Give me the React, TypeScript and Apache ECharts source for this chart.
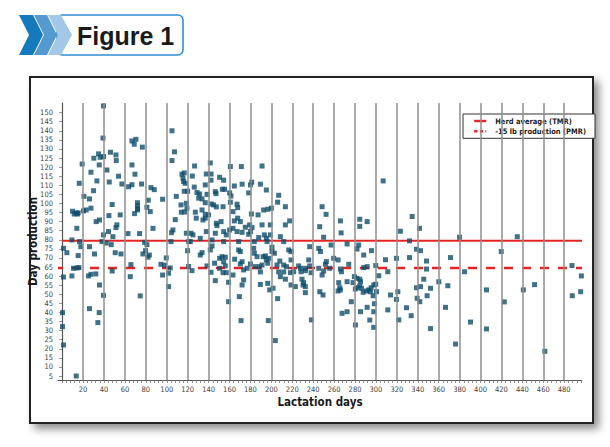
import React, { useEffect, useRef } from 'react';
import * as echarts from 'echarts';

// [lactation day, day production (lb)]
const cowsDays0to60: number[][] = [
  [39.5,153.7],[39,136],[46.2,128.2],[51.4,126.7],[51.7,123.6],[34.8,127.3],[36.4,125.4],[39.5,125.8],[30.3,124.9],
  [35.4,121.2],[19.1,121.7],[42.8,118.4],[27.5,117.2],[53.9,115],[33.2,112.4],[45,111.8],[16.3,111.1],[57.1,110.7],
  [30,107],[20.8,103.9],[26.1,102.5],[47.8,99.4],[27.5,97.4],[9.9,95.7],[11.5,94.2],[13.4,94.8],[14.6,94.2],[15.3,94.8],
  [20.4,95.9],[23,96.4],[32.5,90],[35.7,90.9],[44.7,93.3],[55.5,93.7],[14,86.3],[52.3,88.2],[51.4,86.7],[39.5,82.7],
  [44.3,84.5],[48.5,81.7],[9.3,79.9],[16.6,79],[38,79],[42.1,78.2],[1.3,75.3],[4.5,72.9],[17.9,76.2],[15.3,71.3],
  [10.8,64.3],[14.1,64.5],[16,64.7],[1.2,59.5],[9.3,60.1],[26.1,76.2],[30.9,72.2],[25.2,60.1],[27.5,61],[32.2,61.2],
  [35.7,55.1],[39.5,49.4],[26.1,42.1],[35.4,39.9],[34.1,34.4],[0.3,39.9],[0.3,32.2],[1.3,22.1],[13.4,5],[46.9,77.3],
  [50.7,72.9],[56.2,72.2],[47.8,62.8]
];
const cowsDays60to122: number[][] = [
  [105,140],[66.7,134.4],[70.5,135.3],[68.9,132.6],[76.6,131],[107.4,128.4],[105,123.6],[66.7,121.2],[69.6,116.1],
  [63.5,109.2],[66.7,110.3],[75.9,110.7],[84.9,108.7],[88,107.6],[114.5,116.1],[116.7,116.8],[115.5,113.9],[116.1,112],
  [117.7,111.1],[109.1,103.9],[116.7,106.7],[119.9,106.7],[82.3,101.8],[96,102.3],[72,100.4],[72,98.8],[72,97.1],
  [72,96.4],[118.7,100.1],[113.6,99.2],[119.3,97.4],[113.9,95.2],[117,95.3],[69.2,94.4],[81,97.9],[84.2,95.5],
  [108.1,91.1],[86.8,86.3],[104.6,83.9],[105.9,85.4],[62.9,83.4],[74,83.4],[118.7,83.6],[78.8,78.6],[104,79],
  [120.9,79],[65.7,66.3],[65.1,59.7],[74.6,49.1],[81,77.3],[77.2,72.2],[79.7,74],[82,70.4],[83.3,71.6],[94.4,66.5],
  [97.9,66],[99.5,70],[96,60.6],[101.7,61.6],[101.7,54.2],[103.3,64.5],[119.9,74],[120.9,65.3]
];
const cowsDays122to200: number[][] = [
  [126.6,120.6],[141.6,122.3],[160.8,120.3],[171.3,120.3],[191.1,120.6],[124.4,115.1],[137.8,116.2],[142.3,116.2],
  [150.5,114.4],[154.4,112.8],[142.3,112.8],[164.6,109.6],[172,110.6],[180,110.2],[181.2,111.7],[189.5,110.6],
  [195.2,107.4],[126.3,109],[136.8,110.2],[128.9,106],[131.4,105.2],[138.5,105],[146.4,106.5],[147.1,105.4],
  [153.1,107.8],[155.3,107.8],[160.1,105.8],[161.4,104.1],[178.3,105.8],[130.5,102.9],[133.7,102.5],[136.8,100.4],
  [142.6,99.7],[144.8,99.2],[147.4,98.1],[153.8,98.2],[160.8,100.7],[167.2,99.6],[167.8,97.7],[163.3,95.5],
  [180.9,94.2],[187.3,93.7],[192.6,96.4],[196.5,96.8],[127.3,95.2],[128.2,91.9],[133.7,96.4],[136.8,94],[140,93.7],
  [134.6,90.9],[136.8,91.9],[147.4,89.1],[151.9,90],[148,87.8],[164.6,90.4],[167.8,91.9],[170.3,90],[175.1,86.9],
  [179.2,88.2],[181.5,86.7],[191.1,88.2],[199,88.2],[123.2,83.6],[125,82.7],[132,80.8],[137.8,84.5],[143.3,79.9],
  [146.4,83.6],[154.4,84.5],[156.9,82.7],[160.1,85.4],[163.3,86.3],[167.2,84.5],[172,84.1],[178.3,83],[180,84.5],
  [183.7,79],[187.9,81.2],[193.3,82.7],[195.2,80.8],[195.9,79],[199,82.7],[122.5,79],[154.4,79],[168.7,79]
];
const cowsDays122to200Low: number[][] = [
  [132,71.6],[133.7,72.9],[143.3,76.6],[141.6,74.4],[150.5,69.8],[152.8,70.7],[156,70.4],[154.4,67.9],[156,65.6],
  [124.1,63],[138.5,65.6],[142.3,62.1],[145.7,67.1],[146.4,57.5],[150.5,64.3],[153.8,61.9],[156.9,61.9],[159.1,56.6],
  [159.1,45.9],[163.3,60.6],[164.9,69.3],[168.7,74.4],[170.3,73.5],[172,67.9],[170.3,66.7],[172,55.1],[173.5,57.9],
  [169.4,48.7],[171,35.5],[173.5,63.4],[176.8,64.3],[180,66.7],[183.1,75.3],[183.7,72.6],[186.3,70.7],[184.7,65.2],
  [188.8,65.2],[191.1,66.1],[189.5,62.3],[192.1,70.7],[194.3,71.1],[195.2,68.9],[196.5,67.1],[197.4,69.8],
  [189.5,55.4],[196.5,56],[198.4,52.4],[197.1,35.5]
];
const cowsDays200to250: number[][] = [
  [207,104.5],[200,97.4],[206,100.7],[213.4,98.2],[213.4,88.2],[217.5,90.4],[208.6,81.7],[211.8,79],[246.2,87.2],
  [201.6,53.3],[206,47.6],[203.8,24.5],[200.6,75.9],[200.6,73.5],[202.9,72.6],[205.4,66.1],[207,62.3],[208.6,59.7],
  [211.8,62.3],[211.8,66.1],[214.4,65.2],[208.1,68.3],[216.6,74.4],[218.8,73.5],[218.8,68.9],[213.4,58.3],
  [218.2,61.9],[218.8,55.1],[221.3,62.4],[222.9,54.2],[226.1,65.6],[227.8,64.3],[228.4,62.4],[232.5,64.3],
  [232.5,63],[229.3,58.3],[230.9,56.4],[232.5,54.2],[232.5,50.9],[230.3,55.1],[235.7,68.9],[236.6,65.6],[238,61.9],
  [238.3,35.9],[245.3,75.3],[246.9,73.5],[245.3,64.3],[246.3,51.4],[236.6,76.2],[248.5,98.2],[248.5,60.6],[249.4,49.6]
];
const cowsDays250to320: number[][] = [
  [306.9,112.4],[252.3,94],[250,81.4],[266,90.4],[266.7,83.8],[284.5,91.3],[284.5,87.4],[291.6,90],[272.4,77.7],
  [283.5,77.1],[281.9,74.9],[295.7,74],[257.1,77.1],[252.6,68],[251.7,66.5],[259.6,69.8],[263.8,68.9],[255.8,64.3],
  [250,62.8],[266,63.9],[267,62.4],[263.8,51.8],[274,66.5],[288.3,71.6],[288.3,64.7],[291.6,65.2],[279.4,59.7],
  [281.9,58.8],[284.5,58.3],[285.2,56.9],[272.4,56.9],[278.1,56.4],[264.4,56.4],[265.4,53.6],[266,52.4],[284.5,54.6],
  [286.1,53.3],[281.9,53.6],[280.3,52.9],[287.8,51.1],[290.9,51.8],[293.1,52.4],[295.4,53.6],[297.9,55.1],
  [299.8,55.5],[294.7,51.4],[297.3,49.2],[300.5,51.4],[302.7,60.2],[299.8,65.8],[309.1,69],[311.3,62.4],[313.9,49.6],
  [319.6,69.8],[319.6,47.2],[276.4,45.9],[280.4,33.1],[285.2,40.4],[291.6,42.8],[294.1,35.8],[297.9,40.4],
  [297.9,31.8],[298.6,44.8],[267.6,39.5],[272.4,40.4],[311.3,41.4]
];
const cowsDays320to500: number[][] = [
  [320.9,51.4],[321.8,35.9],[329.2,42.6],[333.7,38.2],[323.4,84.7],[334.6,92.8],[341.6,86.3],[332.1,79.4],
  [338.8,74.8],[342.6,74],[332.1,70.2],[348.3,68.3],[348.3,63.9],[345.7,58.3],[338.8,53.6],[342.6,54.2],[352.2,53.3],
  [339.4,47.8],[341.9,45.9],[348.9,49.2],[360.1,56.9],[368.7,54.7],[366.5,42.8],[352.2,31.1],[371.3,70.2],
  [379.9,81.4],[435.1,81.7],[419.8,73.5],[384.7,62.4],[487.4,65.8],[496.4,60.1],[405.7,52.4],[440.9,52.4],
  [451.7,55.3],[422.7,45.8],[487.7,49.2],[495.7,51.4],[390.4,34.7],[405.7,30.9],[376.1,22.6],[461.5,18.6]
];

const herdAverage = 79.4;      // TMR herd average
const pmrLevel = 64.4;         // herd average - 15 lb
const xTickLabels = [20,40,60,80,100,120,140,160,180,200,220,240,260,280,300,320,340,360,380,400,420,440,460,480];
const yTickLabels = [5,10,15,20,25,30,35,40,45,50,55,60,65,70,75,80,85,90,95,100,105,110,115,120,125,130,135,140,145,150];
const X_MIN = -4;
const X_MAX = 497;
const Y_MIN = 2.8;
const Y_MAX = 155.3;

const NARROW = "'Liberation Sans Narrow', 'DejaVu Sans Condensed', 'Liberation Sans', Arial, sans-serif";

export default function App() {
  const ref = useRef<HTMLDivElement>(null);
  useEffect(() => {
    if (!ref.current) return;
    const chart = echarts.init(ref.current, undefined, { renderer: 'svg' });
    const minorTicks: number[] = [];
    for (let d = 0; d <= 496; d += 4) minorTicks.push(d);
    const points = [
      ...cowsDays0to60, ...cowsDays60to122, ...cowsDays122to200, ...cowsDays122to200Low,
      ...cowsDays200to250, ...cowsDays250to320, ...cowsDays320to500,
    ];
    const option: any = {
      animation: false,
      backgroundColor: '#ffffff',
      grid: { left: 58, right: 28, top: 103, bottom: 67, containLabel: false },
      xAxis: {
        type: 'value', min: X_MIN, max: X_MAX,
        axisLine: { show: true, lineStyle: { color: '#555', width: 1.2 } },
        axisTick: { show: true, length: 3, customValues: minorTicks, lineStyle: { color: '#777', width: 0.8 } },
        axisLabel: { customValues: xTickLabels, fontSize: 7.5, color: '#444', fontFamily: NARROW, margin: 5 },
        splitLine: { show: false },
        name: 'Lactation days', nameLocation: 'middle', nameGap: 16, nameMoveOverlap: false,
        nameTextStyle: { fontSize: 11.5, fontWeight: 'bold', fontFamily: NARROW, color: '#1a1a1a' },
      },
      yAxis: {
        type: 'value', min: Y_MIN, max: Y_MAX,
        axisLine: { show: true, lineStyle: { color: '#555', width: 1.2 } },
        axisTick: { show: true, length: 3, customValues: yTickLabels, lineStyle: { color: '#777', width: 0.8 } },
        axisLabel: { customValues: yTickLabels, fontSize: 7.5, color: '#444', fontFamily: NARROW, margin: 5 },
        splitLine: { show: false },
        name: 'Day production', nameLocation: 'middle', nameGap: 19.5, nameRotate: 90, nameMoveOverlap: false,
        nameTextStyle: { fontSize: 11.5, fontWeight: 'bold', fontFamily: NARROW, color: '#1a1a1a' },
      },
      legend: {
        left: 463, top: 114, orient: 'vertical',
        backgroundColor: '#ffffff', borderColor: '#333', borderWidth: 1,
        padding: [3, 9, 3, 10], itemWidth: 12, itemHeight: 6, itemGap: 2.3,
        selectedMode: false,
        itemStyle: { opacity: 0 },
        textStyle: { fontSize: 7.5, fontWeight: 'bold', fontFamily: NARROW, color: '#222', lineHeight: 8, padding: [0, 0, 0, 4] },
        data: [
          { name: 'Herd average (TMR)', lineStyle: { color: '#e52421', width: 2.4, type: 'solid', opacity: 1 } },
          { name: '-15 lb production (PMR)', lineStyle: { color: '#e52421', width: 2.4, type: [3.3, 2.3], dashOffset: 0, opacity: 1 } },
        ],
      },
      graphic: [
        { type: 'rect', z: -10, shape: { x: 30, y: 77, width: 563, height: 346 },
          style: { fill: '#ffffff', stroke: '#222', lineWidth: 2, shadowBlur: 8, shadowOffsetX: 5, shadowOffsetY: 5, shadowColor: 'rgba(0,0,0,0.45)' } },
        { type: 'rect', shape: { x: 57, y: 15, width: 126, height: 40, r: 5 }, style: { fill: '#ffffff', stroke: '#2f8fd3', lineWidth: 1.6 } },
        { type: 'polygon', shape: { points: [[19, 15], [33, 15], [43, 35], [33, 55], [19, 55], [29, 35]] }, style: { fill: '#1479bd' } },
        { type: 'polygon', shape: { points: [[34, 15], [47, 15], [57, 35], [47, 55], [34, 55], [44, 35]] }, style: { fill: '#5499d0' } },
        { type: 'polygon', shape: { points: [[48, 15], [61, 15], [72, 35], [61, 55], [48, 55], [58, 35]] }, style: { fill: '#a3c7e6' } },
        { type: 'text', x: 77, y: 35.5, style: { text: 'Figure 1', font: "bold 25px 'Liberation Sans', Arial, sans-serif", fill: '#1a1a1a', align: 'left', verticalAlign: 'middle' } },
      ],
      series: [
        {
          type: 'scatter', name: 'gridlines', data: [], z: 1, silent: true,
          markLine: {
            silent: true, symbol: ['none', 'none'], animation: false,
            label: { show: false },
            lineStyle: { color: '#8e8e8e', width: 1.5, type: 'solid' },
            emphasis: { disabled: true },
            data: xTickLabels.map((v) => ({ xAxis: v })),
          },
        },
        {
          type: 'line', name: 'Herd average (TMR)', symbol: 'none', z: 2, silent: true,
          data: [[0, herdAverage], [X_MAX, herdAverage]],
          lineStyle: { color: '#e52421', width: 2 }, itemStyle: { color: '#e52421' },
        },
        {
          type: 'line', name: '-15 lb production (PMR)', symbol: 'none', z: 2, silent: true,
          data: [[X_MIN, pmrLevel], [X_MAX, pmrLevel]],
          lineStyle: { color: '#e52421', width: 2.5, type: [9, 9], dashOffset: 3.7 }, itemStyle: { color: '#e52421' },
        },
        {
          type: 'scatter', name: 'cows', symbol: 'rect', symbolSize: 5, z: 3, silent: true,
          data: points, itemStyle: { color: '#0f4d6c' },
        },
      ],
    };
    chart.setOption(option);
    return () => chart.dispose();
  }, []);
  return <div ref={ref} style={{ position: 'absolute', left: 0, top: 0, width: 610, height: 447 }} />;
}
